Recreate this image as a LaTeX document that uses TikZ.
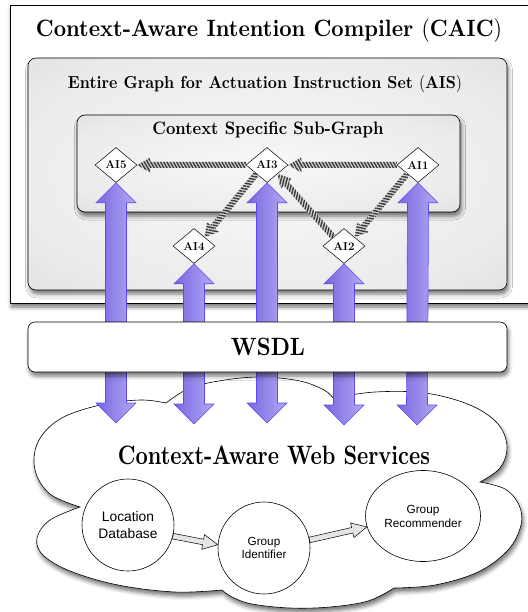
\documentclass[tikz,border=0pt]{standalone}
\usepackage{fontspec}
\usepackage{graphicx}
\newfontfamily\helv{Liberation Sans}
\usetikzlibrary{shapes.geometric,calc,shadows.blur,patterns.meta}
\definecolor{purA}{HTML}{7866E0}
\definecolor{purB}{HTML}{B4AAF4}
\definecolor{purD}{HTML}{5A4AF2}
\definecolor{hatchbg}{HTML}{D6D6D6}
\definecolor{hatchfg}{HTML}{383838}
\definecolor{pcA}{HTML}{F8F8F8}
\definecolor{pcB}{HTML}{EBEBEB}
\definecolor{pcC}{HTML}{D2D2D2}
\definecolor{pcD}{HTML}{A9A9A9}
\pgfdeclareradialshading{panelshade}{\pgfpoint{0bp}{0bp}}{color(0bp)=(pcA); color(28bp)=(pcB); color(50bp)=(pcC); color(72bp)=(pcD)}
\tikzset{
  shadowed/.style={blur shadow={shadow xshift=1.5pt,shadow yshift=-4pt,shadow blur radius=4pt,shadow opacity=55}},
  outerbox/.style={draw=black,line width=0.7pt,fill=white,shadowed},
  panel/.style={draw=black,line width=0.6pt,rounded corners=8pt,shading=panelshade,shadowed},
  wsdlbox/.style={draw=black,line width=0.6pt,rounded corners=7pt,fill=white,shadowed},
  cloudst/.style={draw=black,line width=0.6pt,fill=white,shadowed},
  aisnode/.style={diamond,draw=black,fill=white,line width=0.5pt,minimum width=42pt,minimum height=35pt,inner sep=0pt,font=\bfseries\fontsize{11.5}{12}\selectfont},
  svc/.style={circle,draw=black,fill=white,line width=0.6pt,minimum size=92pt,inner sep=0pt,align=center},
  svcell/.style={ellipse,draw=black,fill=white,line width=0.6pt,minimum width=115pt,minimum height=91pt,inner sep=0pt,align=center},
  bigarrow/.style={left color=purA,right color=purB,draw=purD,line width=0.6pt},
  greyarrow/.style={fill=black!10,draw=black,line width=0.5pt},
  titletext/.style={inner sep=0pt,font=\bfseries}
}
% hatched arrow: #1 start, #2 tip, #3 stripe angle
\newcommand\hatcharrow[3]{%
  \coordinate (hh) at ($(#2)!13pt!(#1)$);
  \path[fill=hatchbg,postaction={pattern={Lines[angle=#3,distance=2.8pt,line width=1.4pt]},pattern color=hatchfg}]
    ($(#1)!3pt!90:(#2)$) -- ($(hh)!3pt!90:(#2)$) -- ($(hh)!7.5pt!90:(#2)$) -- (#2)
    -- ($(hh)!7.5pt!-90:(#2)$) -- ($(hh)!3pt!-90:(#2)$) -- ($(#1)!3pt!-90:(#2)$) -- cycle;}
% hollow grey arrow: #1 start, #2 tip
\newcommand\hollowarrow[2]{%
  \coordinate (gg) at ($(#2)!15pt!(#1)$);
  \draw[greyarrow]
    ($(#1)!2.8pt!90:(#2)$) -- ($(gg)!2.8pt!90:(#2)$) -- ($(gg)!7.5pt!90:(#2)$) -- (#2)
    -- ($(gg)!7.5pt!-90:(#2)$) -- ($(gg)!2.8pt!-90:(#2)$) -- ($(#1)!2.8pt!-90:(#2)$) -- cycle;}
% double headed vertical arrow: #1 top tip, #2 bottom tip
\newcommand\updown[2]{%
  \draw[bigarrow] (#1) -- ($(#1)+(20,20)$) -- ($(#1)+(10.5,20)$) -- ($(#2)+(10.5,-20)$)
    -- ($(#2)+(20,-20)$) -- (#2) -- ($(#2)+(-20,-20)$) -- ($(#2)+(-10.5,-20)$)
    -- ($(#1)+(-10.5,20)$) -- ($(#1)+(-20,20)$) -- cycle;}
\begin{document}
\begin{tikzpicture}[x=1pt,y=-1pt]
\useasboundingbox (0,0) rectangle (527,612);
% outer compiler box
\draw[outerbox] (10,5) rectangle (545,303);
\node[titletext] (caic) at (269,31) {\resizebox{466pt}{!}{\scalebox{1}[1.1]{Context-Aware Intention Compiler {\mdseries(}CAIC{\mdseries)}}}};
% AIS panel
\draw[panel] (28,58) rectangle (507,290);
\node[titletext] (ais) at (265,84) {\resizebox{394pt}{!}{\scalebox{1}[1.1]{Entire Graph for Actuation Instruction Set {\mdseries(}AIS{\mdseries)}}}};
% sub-graph panel
\draw[panel] (77,115) rectangle (460,212);
\node[titletext] (sub) at (268,130) {\resizebox{231pt}{!}{\scalebox{1}[1.1]{Context Specific Sub-Graph}}};
% cloud
\draw[cloudst] plot[smooth,tension=0.6] coordinates {(166,403) (190,388) (225,380) (262,377) (300,381) (324,390) (333,398)}
  -- plot[smooth,tension=0.6] coordinates {(333,398) (375,392) (425,393) (470,405) (498,424) (507,447) (500,468) (480,482)}
  -- plot[smooth,tension=0.6] coordinates {(480,482) (505,489) (519,505) (521,525) (508,550) (478,572) (435,585) (394,588)}
  -- plot[smooth,tension=0.6] coordinates {(394,588) (368,601) (330,607) (290,608) (252,604) (232,597) (222,590)}
  -- plot[smooth,tension=0.6] coordinates {(222,590) (175,592) (118,585) (70,571) (43,555) (37,538) (50,520) (80,507)}
  -- plot[smooth,tension=0.6] coordinates {(80,507) (50,494) (35,470) (38,442) (60,419) (100,405) (140,400) (166,403)}
  -- cycle;
\node[titletext] (cws) at (274,455) {\resizebox{312pt}{!}{\scalebox{1}[1.25]{Context-Aware Web Services}}};
% AIS diamonds
\node[aisnode] (AI5) at (116,165) {AI5};
\node[aisnode] (AI3) at (267,165) {AI3};
\node[aisnode] (AI1) at (418,165) {AI1};
\node[aisnode] (AI4) at (194,246) {AI4};
\node[aisnode] (AI2) at (344,246) {AI2};
% bottom ends of the service arrows
\coordinate (b5) at (116,423);
\coordinate (b4) at (194,424);
\coordinate (b3) at (267,423);
\coordinate (b2) at (344,425);
\coordinate (b1) at (417,425);
\updown{AI5.south}{b5}
\updown{AI4.south}{b4}
\updown{AI3.south}{b3}
\updown{AI2.south}{b2}
\updown{AI1.south}{b1}
% WSDL layer
\draw[wsdlbox] (28,322) rectangle (507,372);
\node[titletext] (wsdl) at (268,347) {\resizebox{74pt}{!}{\scalebox{1}[1.15]{WSDL}}};
% hatched dependency arrows
\hatcharrow{AI3.west}{AI5.east}{120}
\hatcharrow{AI1.west}{AI3.east}{120}
\hatcharrow{AI3.south west}{AI4.north east}{168}
\hatcharrow{AI1.south west}{AI2.north east}{168}
\hatcharrow{AI2.north west}{AI3.south east}{75}
% services
\node[svc,font=\helv\fontsize{13.8}{17}\selectfont] (LD) at (128,525) {Location\\Database};
\node[svc,font=\helv\fontsize{11.7}{13.5}\selectfont] (GI) at (264,548) {Group\\Identifier};
\node[svcell,font=\helv\fontsize{11.8}{14}\selectfont] (GR) at (423,516) {Group\\Recommender};
\hollowarrow{LD.-14}{GI.176}
\hollowarrow{GI.10}{GR.191}
\end{tikzpicture}
\end{document}
